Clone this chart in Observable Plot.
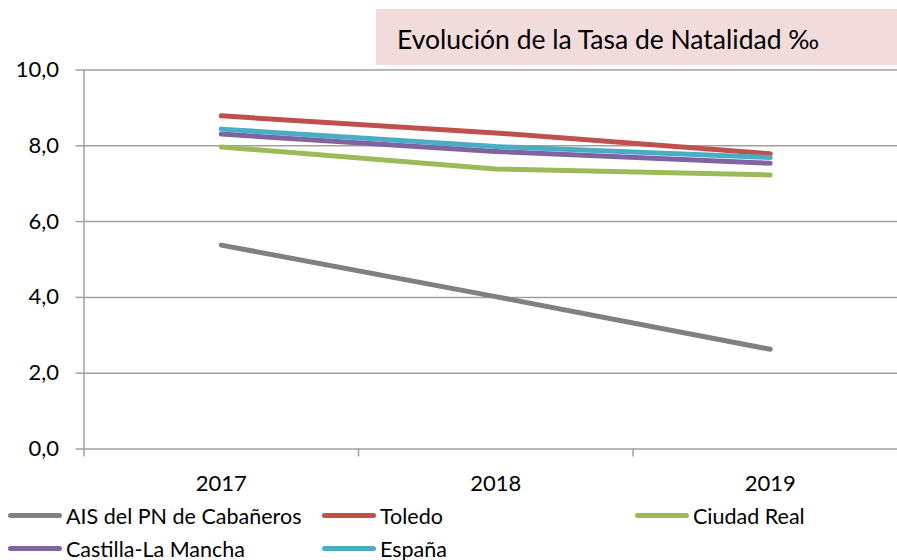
<!DOCTYPE html>
<html>
<head>
<meta charset="utf-8">
<script src="https://cdn.jsdelivr.net/npm/d3@7"></script>
<script src="https://cdn.jsdelivr.net/npm/@observablehq/plot@0.6"></script>
<style>
  html, body { margin: 0; padding: 0; background: #fff; }
  body { width: 897px; height: 560px; position: relative; overflow: hidden; font-family: Lato, "Open Sans", sans-serif; }
  #chart { position: absolute; left: 0; top: 0; }
  #title { position: absolute; left: 376px; top: 9px; width: 521px; height: 56px; background: #f2dcdb;
           font-size: 26.5px; color: #000; display: flex; align-items: center; padding-left: 21px; padding-top: 4px; box-sizing: border-box; }
  #legend { position: absolute; left: 8px; top: 499px; display: grid; grid-template-columns: 314px 313px 260px; grid-auto-rows: 33px; font-size: 21.5px; color: #000; }
  .item { display: flex; align-items: center; }
  .sw { width: 54px; height: 5px; border-radius: 3px; margin-right: 4px; }
</style>
</head>
<body>
<div id="chart"></div>
<div id="title">Evolución de la Tasa de Natalidad ‰</div>
<div id="legend"></div>
<script>
const years = [2017, 2018, 2019];
const seriesNames = ["AIS del PN de Cabañeros", "Toledo", "Ciudad Real", "Castilla-La Mancha", "España"];
const seriesColors = ["#808080", "#c0504d", "#9bbb59", "#8064a2", "#4bacc6"];
const aisValues = [5.38, 4.02, 2.63];
const toledoValues = [8.79, 8.34, 7.79];
const ciudadRealValues = [7.97, 7.39, 7.23];
const clmValues = [8.31, 7.85, 7.54];
const espanaValues = [8.44, 7.98, 7.69];
const yTicks = [0, 2, 4, 6, 8, 10];

const allValues = [aisValues, toledoValues, ciudadRealValues, clmValues, espanaValues];
const data = [];
seriesNames.forEach((name, i) => {
  years.forEach((yr, j) => data.push({series: name, year: yr, value: allValues[i][j]}));
});
const boundaries = years.map(y => y - 0.5);

const H = 500;
const gridColor = "#a0a0a0";
const chart = Plot.plot({
  width: 897,
  height: H,
  marginLeft: 83.5,
  marginRight: 0,
  marginTop: 69.5,
  marginBottom: H - 448.5,
  style: {fontFamily: "Lato, 'Open Sans', sans-serif", fontSize: "22px", color: "#000", background: "transparent"},
  x: {type: "linear", domain: [years[0] - 0.5, years[years.length - 1] + 0.5], range: [83.5, 907], axis: null},
  y: {domain: [0, 10], axis: null},
  color: {domain: seriesNames, range: seriesColors},
  marks: [
    Plot.ruleY(yTicks, {stroke: gridColor, strokeWidth: 1.5}),
    Plot.ruleX([boundaries[0]], {y1: 0, y2: 10, stroke: gridColor, strokeWidth: 1.5}),
    Plot.axisY({ticks: yTicks, tickSize: 8, tickPadding: 17, stroke: gridColor, strokeWidth: 1.5,
      tickFormat: d => d.toFixed(1).replace(".", ","), label: null, fill: "#000"}),
    Plot.axisX({ticks: boundaries, tickSize: 8, tickFormat: () => "", stroke: gridColor, strokeWidth: 1.5, label: null}),
    Plot.axisX({ticks: years, tickSize: 0, tickPadding: 26, tickFormat: d => String(d), label: null, fill: "#000"}),
    Plot.line(data, {x: "year", y: "value", z: "series", stroke: "series", strokeWidth: 5, strokeLinecap: "round", strokeLinejoin: "round"})
  ]
});
document.getElementById("chart").appendChild(chart);

const legend = document.getElementById("legend");
seriesNames.forEach((name, i) => {
  const it = document.createElement("div");
  it.className = "item";
  const sw = document.createElement("div");
  sw.className = "sw";
  sw.style.background = seriesColors[i];
  const t = document.createElement("span");
  t.textContent = name;
  it.appendChild(sw); it.appendChild(t);
  legend.appendChild(it);
});
</script>
</body>
</html>
